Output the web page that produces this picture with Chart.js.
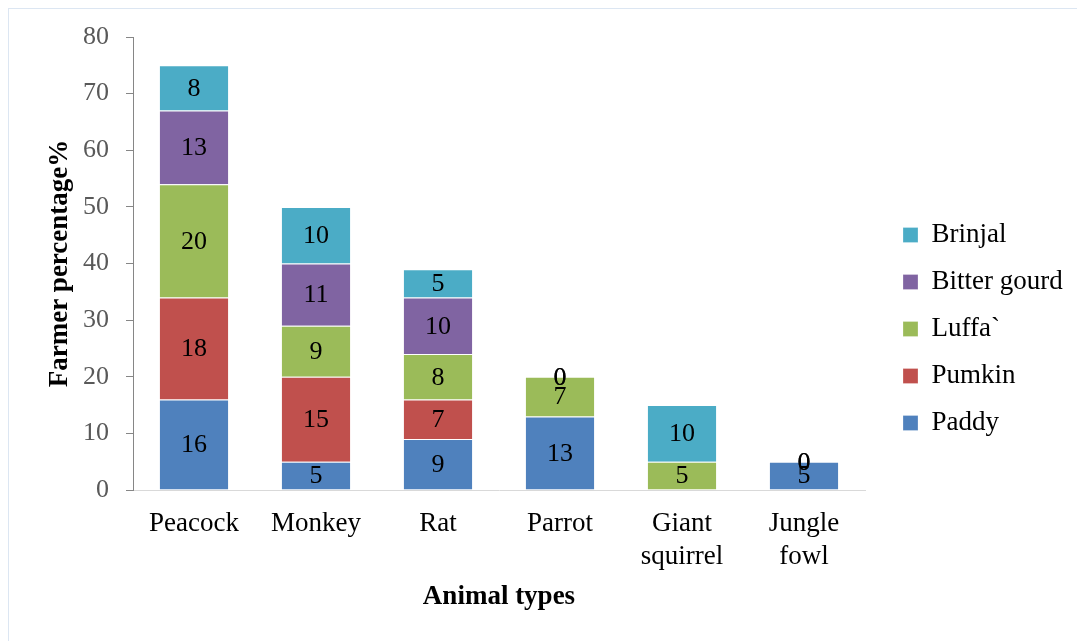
<!DOCTYPE html>
<html>
<head>
<meta charset="utf-8">
<script src="https://cdn.jsdelivr.net/npm/chart.js@4/dist/chart.umd.min.js"></script>
<style>
  html, body { margin: 0; padding: 0; background: #ffffff; overflow: hidden; }
  #frame { position: absolute; left: 8px; top: 8px; width: 1120px; height: 700px; border: 1px solid #dce6f2; }
  #wrap { position: absolute; left: 0; top: 0; width: 1077px; height: 641px; }
</style>
</head>
<body>
<div id="frame"></div>
<div id="wrap"><canvas id="chart" width="1077" height="641"></canvas></div>
<script>
// Crop damage by animal: share of farmers (%) per crop
const animals = ['Peacock', 'Monkey', 'Rat', 'Parrot', ['Giant', 'squirrel'], ['Jungle', 'fowl']];
const paddy       = [16, 5, 9, 13, null, 5];
const pumkin      = [18, 15, 7, null, null, null];
const luffa       = [20, 9, 8, 7, 5, null];
const bitterGourd = [13, 11, 10, 0, null, 0];
const brinjal     = [8, 10, 5, 0, 10, 0];
const yTicks = [0, 10, 20, 30, 40, 50, 60, 70, 80];

const serif = "'Liberation Serif', 'Times New Roman', Times, serif";

// Value labels centred in every stacked segment
const segmentLabels = {
  id: 'segmentLabels',
  afterDatasetsDraw(chart) {
    const ctx = chart.ctx;
    ctx.save();
    ctx.font = '26px ' + serif;
    ctx.fillStyle = '#000000';
    ctx.textAlign = 'center';
    ctx.textBaseline = 'middle';
    chart.data.datasets.forEach((ds, i) => {
      const meta = chart.getDatasetMeta(i);
      if (meta.hidden) return;
      meta.data.forEach((bar, j) => {
        const v = ds.data[j];
        if (v === null || v === undefined) return;
        const cy = (bar.y + bar.base) / 2;
        ctx.fillText(String(v), bar.x, cy + 1);
      });
    });
    ctx.restore();
  }
};

// Legend column sits in a fixed-width strip at the right
const legendStrip = {
  id: 'legendStrip',
  beforeLayout(chart) {
    const lg = chart.legend;
    if (lg && !lg._stripFit) {
      const fit = lg.fit.bind(lg);
      lg.fit = function () { fit(); this.width = 212; };
      lg._stripFit = true;
    }
  },
  afterLayout(chart) {
    const lg = chart.legend;
    if (lg) {
      lg.left += 18; lg.right += 18;
      lg.top -= 10; lg.bottom -= 10;
    }
  }
};

new Chart(document.getElementById('chart'), {
  type: 'bar',
  data: {
    labels: animals,
    datasets: [
      { label: 'Paddy',        data: paddy,       backgroundColor: '#4f81bd' },
      { label: 'Pumkin',       data: pumkin,      backgroundColor: '#c0504d' },
      { label: 'Luffa`',       data: luffa,       backgroundColor: '#9bbb59' },
      { label: 'Bitter gourd', data: bitterGourd, backgroundColor: '#8064a2' },
      { label: 'Brinjal',      data: brinjal,     backgroundColor: '#4bacc6' }
    ].map(d => Object.assign(d, {
      borderColor: 'rgba(255,255,255,0.25)',
      borderWidth: 1,
      categoryPercentage: 1,
      barPercentage: 0.575
    }))
  },
  options: {
    responsive: false,
    animation: false,
    layout: { padding: { top: 37, left: 0, right: 0, bottom: 0 } },
    plugins: {
      tooltip: { enabled: false },
      legend: {
        position: 'right',
        reverse: true,
        labels: {
          boxWidth: 15,
          boxHeight: 15,
          padding: 20,
          color: '#000000',
          font: { family: serif, size: 27 }
        }
      }
    },
    scales: {
      x: {
        stacked: true,
        grid: { display: false, drawTicks: false },
        border: { display: true, color: '#d9d9d9', width: 1 },
        ticks: {
          color: '#000000',
          padding: 18,
          maxRotation: 0,
          autoSkip: false,
          font: { family: serif, size: 27, lineHeight: 1.2 }
        },
        title: {
          display: true,
          text: 'Animal types',
          color: '#000000',
          font: { family: serif, size: 27, weight: 'bold' },
          padding: { top: 0, bottom: 28 }
        },
        afterFit(scale) { scale.height = 151; }
      },
      y: {
        stacked: true,
        min: 0,
        max: 80,
        afterBuildTicks(scale) { scale.ticks = yTicks.map(v => ({ value: v })); },
        grid: {
          display: true,
          drawOnChartArea: false,
          drawTicks: true,
          tickLength: 7,
          color: '#868686'
        },
        border: { display: true, color: '#868686', width: 1 },
        ticks: {
          color: '#595959',
          padding: 17,
          font: { family: serif, size: 26 }
        },
        title: {
          display: true,
          text: 'Farmer percentage%',
          color: '#000000',
          font: { family: serif, size: 27, weight: 'bold' },
          padding: { top: 44, bottom: 0 }
        },
        afterFit(scale) { scale.width = 133; }
      }
    }
  },
  plugins: [segmentLabels, legendStrip]
});
</script>
</body>
</html>
